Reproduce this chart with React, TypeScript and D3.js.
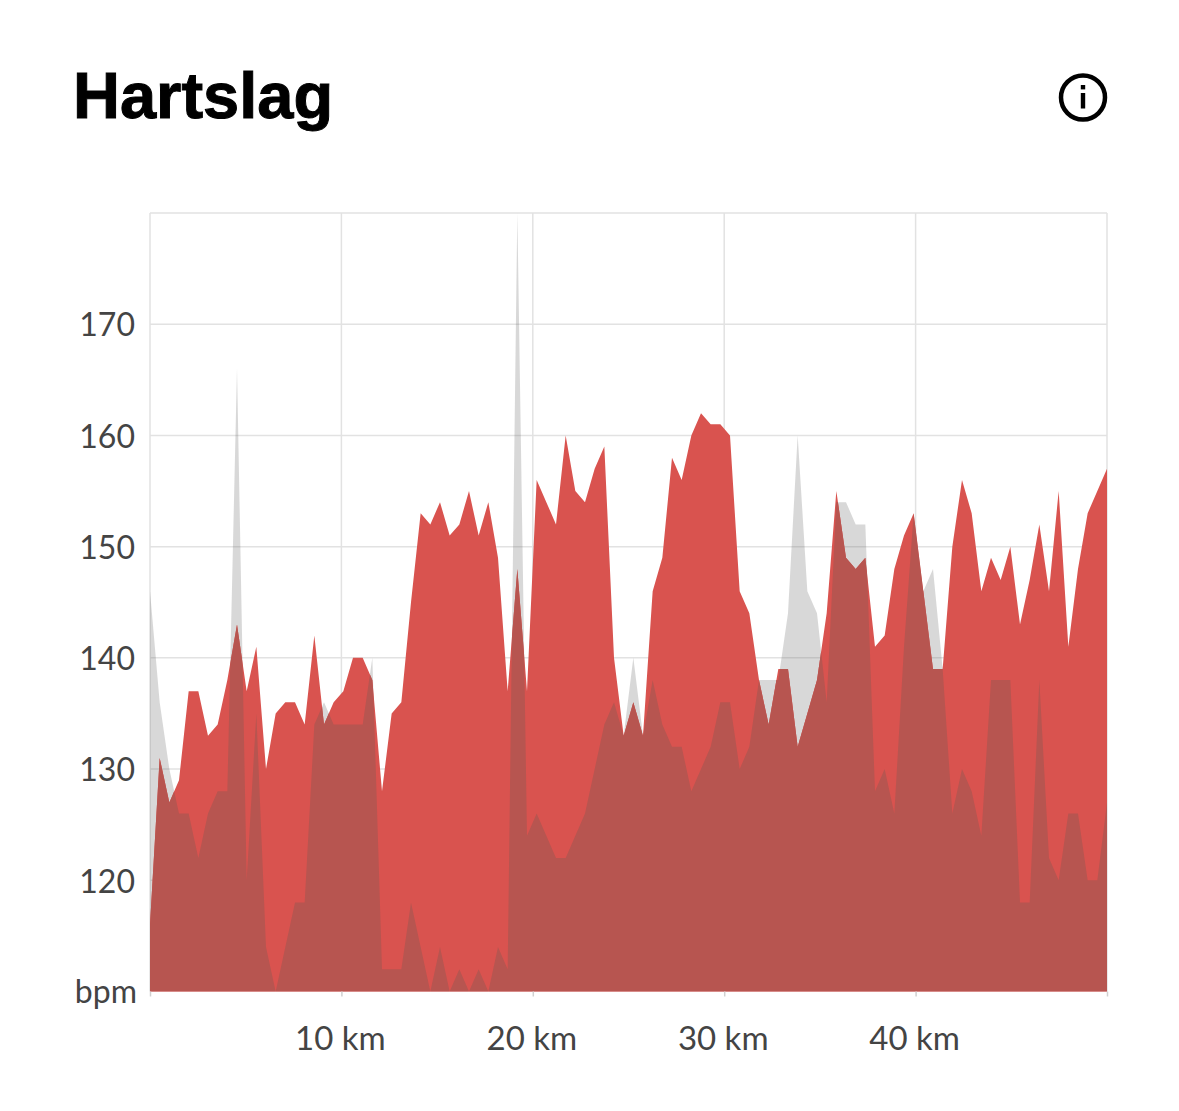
import { useEffect, useRef } from 'react';
import * as d3 from 'd3';

// heart rate per sample, 100 samples spread over the 50 km
const heartRate = [
  116, 131, 127, 129, 137, 137, 133, 134, 138, 143,
  137, 141, 130, 135, 136, 136, 134, 142, 134, 136,
  137, 140, 140, 138, 128, 135, 136, 145, 153, 152,
  154, 151, 152, 155, 151, 154, 149, 137, 148, 137,
  156, 154, 152, 160, 155, 154, 157, 159, 140, 133,
  136, 133, 146, 149, 158, 156, 160, 162, 161, 161,
  160, 146, 144, 138, 134, 139, 139, 132, 135, 138,
  144, 155, 149, 148, 149, 141, 142, 148, 151, 153,
  146, 139, 139, 150, 156, 153, 146, 149, 147, 150,
  143, 147, 152, 146, 155, 141, 148, 153, 155, 157,
];

// the reference ride, drawn as the grey layer
const referenceRate = [
  146, 136, 130, 126, 126, 122, 126, 128, 128, 166,
  120, 135, 114, 110, 114, 118, 118, 134, 136, 134,
  134, 134, 134, 140, 112, 112, 112, 118, 114, 110,
  114, 110, 112, 110, 112, 110, 114, 112, 180, 124,
  126, 124, 122, 122, 124, 126, 130, 134, 136, 133,
  140, 133, 138, 134, 132, 132, 128, 130, 132, 136,
  136, 130, 132, 138, 138, 138, 144, 160, 146, 144,
  136, 154, 154, 152, 152, 128, 130, 126, 141, 153,
  146, 148, 139, 126, 130, 128, 124, 138, 138, 138,
  118, 118, 138, 122, 120, 126, 126, 120, 120, 127,
];

const yTicks = [120, 130, 140, 150, 160, 170];
const xTicks = [10, 20, 30, 40];

const totalKm = 50;
const distance = (i: number) => (i * totalKm) / (heartRate.length - 1);

export default function App() {
  const svgRef = useRef<SVGSVGElement>(null);

  useEffect(() => {
    if (!svgRef.current) return;

    const svg = d3.select(svgRef.current);
    svg.selectAll('*').remove();

    const left = 150;
    const right = 1107;
    const top = 213;
    const bottom = 991.5;
    const labelFont = 'Lato, sans-serif';

    const x = d3.scaleLinear().domain([0, totalKm]).range([left, right]);
    const y = d3.scaleLinear().domain([110, 180]).range([bottom, top]);

    // Title
    svg.append('text')
      .attr('x', 73)
      .attr('y', 118)
      .attr('font-family', 'Liberation Sans, sans-serif')
      .attr('font-weight', 700)
      .attr('font-size', 65)
      .attr('fill', '#000')
      .attr('stroke', '#000')
      .attr('stroke-width', 1)
      .text('Hartslag');

    // Info icon
    const icon = svg.append('g').attr('transform', 'translate(1083, 97.5)');
    icon.append('circle').attr('r', 22).attr('fill', 'none').attr('stroke', '#000').attr('stroke-width', 4.5);
    icon.append('rect').attr('x', -2.2).attr('y', -12.5).attr('width', 4.4).attr('height', 4.4).attr('fill', '#000');
    icon.append('rect').attr('x', -2.2).attr('y', -4.5).attr('width', 4.4).attr('height', 15.5).attr('fill', '#000');

    // Grid
    const grid = svg.append('g').attr('stroke', '#e2e2e2').attr('stroke-width', 1.5);
    [...yTicks, 180].forEach(t => {
      grid.append('line').attr('x1', left).attr('x2', right).attr('y1', y(t)).attr('y2', y(t));
    });
    [0, ...xTicks, totalKm].forEach(t => {
      grid.append('line').attr('x1', x(t)).attr('x2', x(t)).attr('y1', top).attr('y2', bottom);
    });

    // Areas
    const area = d3.area<number>()
      .x((_, i) => x(distance(i)))
      .y0(bottom)
      .y1(d => y(d));

    svg.append('clipPath').attr('id', 'heart-clip')
      .append('path').attr('d', area(heartRate));

    svg.append('path').attr('d', area(referenceRate)).attr('fill', '#646464').attr('fill-opacity', 0.25);
    svg.append('path').attr('d', area(heartRate)).attr('fill', '#d9534f');
    // where both rides overlap
    svg.append('path')
      .attr('d', area(referenceRate))
      .attr('clip-path', 'url(#heart-clip)')
      .attr('fill', '#b75550');

    // Y axis
    const yAxis = svg.append('g')
      .attr('transform', `translate(${left}, 1.5)`)
      .call(d3.axisLeft(y).tickValues(yTicks).tickSize(0).tickPadding(15));
    yAxis.select('.domain').remove();
    yAxis.selectAll('text')
      .attr('font-family', labelFont)
      .attr('font-size', 32)
      .attr('fill', '#444');

    svg.append('text')
      .attr('x', 137)
      .attr('y', 1003)
      .attr('text-anchor', 'end')
      .attr('font-family', labelFont)
      .attr('font-size', 32)
      .attr('fill', '#444')
      .text('bpm');

    // X axis
    const xAxis = svg.append('g')
      .attr('transform', `translate(0, ${bottom})`)
      .call(d3.axisBottom(x).tickValues([0, ...xTicks, totalKm]).tickSize(5).tickPadding(30)
        .tickFormat(d => (xTicks.includes(+d) ? `${d} km` : '')));
    xAxis.select('.domain').remove();
    xAxis.selectAll('line').attr('stroke', '#d0d0d0').attr('stroke-width', 1.5);
    xAxis.selectAll('text')
      .attr('dx', -1.5)
      .attr('font-family', labelFont)
      .attr('font-size', 33)
      .attr('fill', '#444');
  }, []);

  return (
    <svg
      ref={svgRef}
      width={1179}
      height={1111}
      style={{ position: 'absolute', left: 0, top: 0, background: '#fff' }}
    />
  );
}
